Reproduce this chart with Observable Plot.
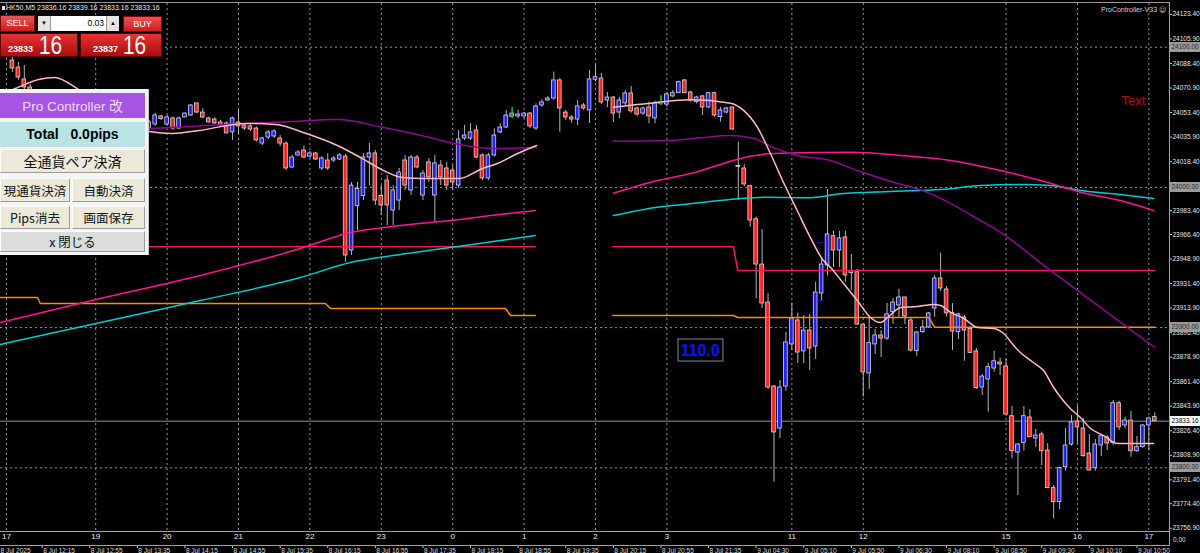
<!DOCTYPE html>
<html><head><meta charset="utf-8"><title>HK50,M5</title>
<script src="https://cdn.jsdelivr.net/npm/d3@7"></script>
<script src="https://cdn.jsdelivr.net/npm/@observablehq/plot@0.6"></script>
<style>
html,body{margin:0;padding:0;background:#000;}
#wrap{position:relative;width:1200px;height:553px;overflow:hidden;background:#000;}
#chart{position:absolute;left:0;top:0;}
.a{position:absolute;box-sizing:border-box;white-space:pre;font-family:"Liberation Sans",Arial,sans-serif;}
.jp{font-family:"Noto Sans CJK JP","Liberation Sans",sans-serif;}
.btn{background:#ece9d8;border:1px solid;border-color:#fff #9a9a9a #9a9a9a #fff;color:#111;display:flex;align-items:center;justify-content:center;}
</style></head>
<body><div id="wrap"><div id="chart"></div>
<!-- chart frame -->
<div class="a" style="left:0;top:2px;width:1170px;height:1px;background:#9a9a9a"></div>
<div class="a" style="left:1169px;top:2px;width:1px;height:544px;background:#a0a0a0"></div>
<div class="a" style="left:0;top:531px;width:1170px;height:1px;background:#a0a0a0"></div>
<div class="a" style="left:0;top:545px;width:1170px;height:1px;background:#a0a0a0"></div>
<div class="a" style="left:1173px;top:536px;font-size:6.5px;color:#ddd;line-height:8px">0.00</div>
<!-- header -->
<div class="a" style="left:2px;top:6px;width:3px;height:4px;background:#ddd"></div>
<div class="a" style="left:6px;top:3px;font-size:7px;color:#e6e6e6;line-height:10px">HK50,M5 23836.16 23839.16 23833.16 23833.16</div>
<div class="a" style="left:1101px;top:5px;font-size:7px;color:#d0d0d0;line-height:10px">ProController-V33 <span style="font-family:'DejaVu Sans'">☺</span></div>
<!-- trade panel -->
<div class="a" style="left:0;top:15px;width:35px;height:17px;background:linear-gradient(#ee5252,#c81e1e);border:1px solid #7a0a0a;color:#fff;font-size:9px;line-height:15px;text-align:center">SELL</div>
<div class="a" style="left:37px;top:15px;width:83px;height:17px;background:#fff;border:1px solid #000"></div>
<div class="a" style="left:38px;top:16px;width:13px;height:15px;background:#e4e4e4;border-right:1px solid #999;font-size:6px;line-height:15px;text-align:center;color:#000">▼</div>
<div class="a" style="left:52px;top:16px;width:52px;height:15px;font-size:8.5px;line-height:15px;text-align:right;color:#000">0.03</div>
<div class="a" style="left:106px;top:16px;width:13px;height:15px;background:#e4e4e4;border-left:1px solid #999;font-size:6px;line-height:15px;text-align:center;color:#000">▲</div>
<div class="a" style="left:123px;top:16px;width:39px;height:16px;background:linear-gradient(#ee5252,#c81e1e);border:1px solid #7a0a0a;color:#fff;font-size:9px;line-height:14px;text-align:center">BUY</div>
<div class="a" style="left:0;top:33px;width:78px;height:24px;background:linear-gradient(#e83232,#a80e0e);border:1px solid #5a0000"></div>
<div class="a" style="left:80px;top:33px;width:82px;height:24px;background:linear-gradient(#e83232,#a80e0e);border:1px solid #5a0000"></div>
<div class="a" style="left:8px;top:45px;font-size:9px;font-weight:bold;color:#fff;line-height:9px">23833</div>
<div class="a" style="left:39px;top:32px;font-size:26px;color:#fff;line-height:26px;transform:scaleX(0.8);transform-origin:left">16</div>
<div class="a" style="left:93px;top:45px;font-size:9px;font-weight:bold;color:#fff;line-height:9px">23837</div>
<div class="a" style="left:123px;top:32px;font-size:26px;color:#fff;line-height:26px;transform:scaleX(0.8);transform-origin:left">16</div>
<!-- Pro Controller panel -->
<div class="a" style="left:0;top:89px;width:149px;height:166px;background:#f4f4f4;border-right:1px solid #c8c8c8"></div>
<div class="a" style="left:0;top:93px;width:145px;height:25px;background:#a654e4;color:#ecdcff;font-size:13.5px;line-height:25px;text-align:center">Pro Controller <span class="jp">改</span></div>
<div class="a" style="left:0;top:122px;width:145px;height:25px;background:#b8e4e4;color:#000;font-size:14px;font-weight:bold;line-height:25px;text-align:center">Total   0.0pips</div>
<div class="a btn jp" style="left:0;top:149px;width:145px;height:24px;font-size:14px">全通貨ペア決済</div>
<div class="a btn jp" style="left:0;top:178px;width:70px;height:24px;font-size:12.5px">現通貨決済</div>
<div class="a btn jp" style="left:72px;top:178px;width:73px;height:24px;font-size:12.5px">自動決済</div>
<div class="a btn jp" style="left:0;top:205.5px;width:70px;height:23px;font-size:12.5px">Pips消去</div>
<div class="a btn jp" style="left:72px;top:205.5px;width:73px;height:23px;font-size:12.5px">画面保存</div>
<div class="a btn jp" style="left:0;top:231px;width:145px;height:21px;font-size:12.5px;background:#dcdcdc">x 閉じる</div>
</div>
<script>
// ---------- DATA ----------
const opens = [24090.5,24085.5,24077.0,24071.3,24067.7,24062.0,24064.9,24056.3,24051.3,24054.9,24046.3,24050.6,24043.5,24039.2,24044.2,24038.5,24042.7,24037.0,24042.0,24046.3,24040.6,24044.9,24041.3,24042.0,24044.9,24050.6,24044.9,24049.2,24042.0,24049.9,24051.3,24059.9,24053.4,24049.2,24048.4,24046.3,24045.6,24039.2,24046.3,24044.2,24043.5,24042.0,24031.3,24035.6,24036.3,24034.9,24031.3,24014.2,24022.8,24026.3,24022.0,24024.2,24013.5,24019.2,24019.2,24019.9,24022.0,23955.0,23986.6,23993.8,24021.3,24024.2,23993.8,24004.9,23983.5,23990.6,24019.2,23997.8,24021.3,23994.2,24017.8,23994.2,24015.6,24013.5,24012.0,24001.3,24034.9,24034.9,24040.6,24022.8,24006.4,24022.8,24039.2,24042.7,24050.6,24050.6,24050.6,24052.7,24042.0,24058.4,24062.0,24063.4,24076.3,24053.4,24049.9,24048.4,24058.4,24054.9,24076.8,24077.7,24062.0,24064.1,24053.4,24059.9,24067.0,24056.3,24052.7,24057.0,24049.2,24059.9,24059.1,24064.9,24067.2,24076.3,24067.7,24060.8,24064.9,24057.0,24067.2,24050.1,24053.4,24057.0,24015.3,24013.5,24000.9,23977.3,23945.0,23917.9,23858.0,23828.0,23858.0,23888.0,23905.1,23883.0,23897.9,23886.5,23924.3,23944.3,23965.2,23955.0,23964.3,23938.8,23939.5,23902.2,23867.3,23888.0,23894.4,23892.2,23911.0,23915.8,23921.5,23905.1,23883.2,23896.7,23900.1,23913.6,23935.0,23927.2,23910.3,23896.7,23907.2,23899.0,23883.0,23857.3,23863.0,23870.8,23875.1,23872.3,23836.8,23810.9,23817.8,23835.9,23820.9,23823.8,23812.3,23785.5,23775.5,23800.4,23816.6,23833.0,23828.0,23810.2,23799.7,23815.9,23821.6,23817.8,23846.1,23830.2,23833.7,23811.8,23814.7,23830.2,23836.16];
const highs = [24094.1,24089.1,24087.0,24073.4,24069.1,24067.0,24066.3,24058.4,24056.3,24056.3,24052.7,24052.0,24046.3,24045.6,24047.0,24044.2,24044.9,24043.5,24048.4,24047.7,24047.0,24046.3,24049.2,24047.7,24052.9,24051.3,24051.3,24050.1,24050.1,24053.2,24059.1,24060.1,24056.1,24050.1,24049.7,24047.7,24046.5,24050.1,24054.9,24045.6,24044.9,24043.0,24035.8,24040.6,24041.3,24037.0,24032.3,24022.8,24026.3,24029.4,24025.6,24025.1,24022.0,24024.0,24022.0,24024.2,24023.5,24003.5,24003.5,24024.2,24031.3,24026.3,24001.3,24008.5,24001.3,24013.5,24022.8,24022.8,24022.8,24012.0,24020.6,24022.8,24019.2,24017.8,24015.6,24040.6,24044.2,24045.4,24044.2,24024.0,24024.2,24041.8,24045.4,24054.9,24056.3,24054.9,24053.4,24053.4,24059.6,24062.5,24064.9,24082.2,24077.5,24054.9,24051.3,24062.0,24059.9,24083.4,24087.0,24081.2,24067.7,24064.9,24064.4,24069.1,24072.0,24057.2,24057.2,24060.8,24061.5,24064.9,24067.9,24069.1,24075.8,24076.8,24068.6,24065.1,24065.6,24067.9,24067.9,24057.2,24057.2,24057.2,24032.3,24016.3,24001.3,23978.8,23970.0,23924.3,23858.7,23862.3,23896.7,23917.4,23910.3,23908.6,23909.4,23932.4,23950.0,23998.5,23968.8,23968.6,23968.8,23952.2,23941.5,23902.2,23907.2,23898.7,23897.9,23917.2,23920.8,23927.2,23921.7,23906.5,23897.4,23905.1,23910.8,23937.2,23953.1,23929.3,23917.2,23910.3,23908.6,23900.3,23885.1,23866.6,23874.6,23883.2,23878.2,23877.3,23843.9,23817.3,23843.7,23841.6,23827.3,23825.4,23817.3,23787.4,23800.4,23828.0,23837.3,23844.4,23835.2,23823.8,23820.2,23823.8,23823.0,23848.0,23847.5,23836.1,23840.2,23822.3,23830.9,23836.1,23839.16];
const lows = [24082.0,24076.3,24069.1,24064.9,24059.1,24059.9,24053.4,24049.2,24047.7,24043.5,24044.2,24040.6,24036.3,24037.0,24034.9,24035.6,24034.2,24034.9,24039.9,24038.5,24038.5,24039.2,24039.9,24040.6,24043.5,24047.7,24043.5,24040.6,24041.1,24049.7,24050.6,24052.5,24049.0,24045.8,24044.9,24042.7,24038.3,24033.5,24038.3,24040.6,24039.9,24032.3,24029.9,24034.2,24034.9,24029.2,24012.1,24013.3,24022.0,24020.4,24020.6,24019.2,24012.1,24012.1,24017.8,24019.2,23946.4,23951.4,23969.2,23990.6,24001.3,23987.1,23980.0,23972.8,23972.8,23983.5,23997.8,23994.2,24013.3,23990.6,24003.5,23975.0,24001.3,23997.8,23997.8,23999.2,24033.4,24033.4,24020.4,24004.9,24004.9,24021.6,24038.3,24041.8,24049.2,24049.0,24049.2,24042.0,24040.6,24057.2,24061.3,24062.0,24039.4,24047.7,24045.8,24044.2,24054.9,24045.6,24075.1,24059.1,24057.0,24046.3,24049.0,24058.4,24053.0,24050.6,24051.3,24045.4,24045.4,24058.4,24057.2,24063.9,24066.8,24066.8,24060.8,24059.6,24051.3,24056.1,24050.1,24046.5,24052.5,24040.6,23990.6,24000.6,23971.6,23920.6,23913.6,23855.8,23789.7,23820.9,23854.6,23883.7,23874.4,23874.4,23869.4,23877.3,23918.8,23936.7,23942.9,23942.9,23932.4,23926.5,23901.5,23850.4,23855.9,23880.8,23878.7,23890.8,23902.2,23907.4,23902.2,23882.5,23879.6,23896.0,23899.4,23907.4,23925.8,23907.4,23883.7,23891.5,23876.0,23881.5,23855.9,23851.6,23839.7,23868.2,23865.8,23836.8,23806.6,23780.2,23811.8,23821.6,23814.7,23801.6,23785.2,23763.6,23770.3,23797.6,23815.4,23817.1,23807.6,23797.6,23797.6,23808.1,23812.3,23815.9,23826.6,23827.8,23807.6,23811.1,23814.0,23812.3,23833.16];
const closes = [24084.8,24078.4,24071.3,24067.7,24062.0,24064.9,24056.3,24051.3,24054.9,24046.3,24050.6,24043.5,24039.2,24044.2,24038.5,24042.7,24037.0,24042.0,24046.3,24040.6,24044.9,24041.3,24047.0,24046.3,24051.3,24048.7,24049.9,24042.0,24049.2,24052.7,24058.4,24053.4,24049.9,24046.3,24045.6,24044.2,24038.5,24049.2,24043.5,24042.0,24041.3,24033.5,24034.9,24039.2,24039.9,24031.3,24013.5,24021.3,24024.9,24021.3,24024.2,24019.9,24020.6,24013.5,24020.6,24022.8,23951.4,24001.3,23998.8,24021.3,24024.2,23990.6,23987.1,23987.1,23997.8,24010.6,24001.3,24021.3,24014.2,24009.9,24007.1,24017.1,24007.1,24001.3,24003.5,24034.2,24037.0,24039.2,24021.3,24006.4,24022.8,24037.0,24042.7,24051.3,24052.7,24052.0,24052.7,24043.5,24057.7,24060.6,24063.4,24076.3,24056.3,24049.9,24048.4,24057.7,24056.3,24077.0,24078.6,24060.6,24064.1,24052.7,24062.0,24067.0,24054.2,24052.0,24056.3,24050.6,24059.9,24060.6,24066.3,24067.2,24075.1,24067.2,24062.0,24064.1,24057.0,24067.2,24051.3,24054.9,24056.3,24041.3,24014.6,24002.1,23976.4,23945.0,23917.2,23857.3,23825.2,23857.3,23889.4,23906.5,23882.2,23897.9,23885.1,23925.0,23945.0,23966.4,23955.0,23963.6,23937.2,23940.2,23902.2,23868.0,23888.9,23894.4,23892.2,23909.4,23917.9,23921.5,23907.9,23883.7,23896.5,23900.1,23910.1,23935.0,23927.9,23910.1,23897.2,23909.4,23897.9,23881.9,23856.9,23865.1,23871.8,23876.0,23873.7,23838.0,23811.8,23816.6,23836.8,23821.8,23823.0,23811.8,23785.5,23775.5,23799.7,23815.9,23832.3,23828.8,23808.3,23798.1,23816.6,23822.5,23817.3,23846.1,23828.8,23833.7,23811.8,23814.7,23830.2,23835.2,23833.16];

// moving averages / levels: [bar index, price]
const pinkL = [[-2,24066.0],[0.5,24070.5],[4.4,24077.0],[7.1,24078.4],[10.9,24070.5],[16.5,24053.4],[23.0,24039.9],[26.9,24038.4],[31.4,24040.6],[39.2,24045.6],[44.2,24044.9],[49.4,24038.4],[54.6,24029.9],[58.5,24021.3],[62.4,24012.0],[65.6,24007.0],[68.8,24006.3],[71.9,24006.3],[75.1,24006.3],[79.0,24013.5],[81.5,24017.0],[84.9,24024.2],[88.1,24029.9]];
const pinkR = [[101.0,24057.2],[107.2,24060.1],[114.0,24062.5],[120.7,24060.1],[122.9,24054.9],[125.2,24043.0],[127.4,24024.2],[129.6,24003.5],[131.9,23983.5],[134.1,23964.3],[136.3,23947.8],[137.5,23942.9],[139.7,23931.4],[142.0,23919.3],[144.2,23907.2],[145.9,23903.6],[147.1,23907.2],[149.3,23914.3],[152.1,23915.0],[154.8,23916.5],[156.0,23915.8],[157.7,23910.8],[159.9,23906.5],[162.2,23900.1],[164.9,23899.4],[166.6,23895.8],[168.3,23887.2],[169.4,23882.2],[171.6,23875.1],[173.3,23869.4],[175.0,23857.3],[176.2,23850.1],[177.8,23842.3],[179.5,23835.9],[181.2,23828.0],[183.4,23823.0],[185.7,23817.3],[188.4,23817.3],[191.8,23817.3]];
const purpleL = [[-2,24040.0],[23.0,24042.0],[30.1,24043.5],[39.2,24045.6],[46.9,24047.0],[54.6,24048.4],[62.4,24042.7],[68.8,24037.0],[75.1,24030.6],[81.0,24027.7],[88.1,24028.4]];
const purpleR = [[101.0,24032.9],[110.1,24033.4],[115.6,24035.4],[120.7,24037.0],[124.6,24034.9],[127.9,24028.4],[131.9,24022.8],[137.5,24019.2],[142.0,24012.0],[147.1,24004.9],[154.3,23995.6],[162.7,23976.4],[165.6,23969.2],[174.5,23940.7],[179.5,23925.0],[187.4,23900.1],[192.0,23885.8]];
const magentaL = [[-2,23903.6],[14.8,23920.7],[31.6,23937.2],[48.4,23956.4],[56.8,23967.8],[65.2,23972.8],[73.6,23976.4],[82.0,23980.7],[87.9,23983.5]];
const magentaR = [[101.0,23995.8],[108.4,24004.9],[114.0,24009.9],[121.2,24019.2],[124.0,24022.2],[127.9,24024.2],[140.9,24025.1],[149.3,24022.8],[157.7,24019.2],[166.1,24012.0],[172.8,24004.9],[179.5,23996.6],[186.2,23990.6],[191.8,23983.5]];
const cyanL = [[-2,23888.0],[14.8,23903.6],[31.6,23919.3],[48.4,23935.7],[56.8,23946.4],[65.2,23952.1],[73.6,23957.1],[82.0,23962.1],[87.9,23965.7]];
const cyanR = [[101.0,23979.9],[108.4,23985.9],[114.0,23988.3],[121.9,23991.9],[126.9,23993.0],[133.6,23992.6],[139.2,23995.4],[147.6,23997.1],[156.0,23998.5],[162.7,24001.3],[169.4,24002.1],[174.5,24001.3],[179.5,23997.8],[186.2,23994.9],[191.8,23992.1]];
const crimsonL = [[-2,23957.6],[87.9,23957.6]];
const crimsonR = [[100.9,23957.6],[121.2,23957.6],[121.9,23940.7],[192,23940.7]];
const orangeL = [[-2,23921.5],[4.2,23921.5],[4.7,23917.2],[52.6,23917.2],[53.5,23913.6],[82.9,23913.6],[83.7,23908.6],[87.9,23908.6]];
const orangeR = [[100.9,23908.6],[121.2,23908.6],[121.9,23907.2],[154.0,23907.2],[155.0,23900.3],[192,23900.3]];

const levelPrices = [24100, 24000, 23900, 23800];
const bidPrice = 23833.16;
const priceLabels = ["24123.40","24105.90","24088.40","24070.90","24053.40","24035.90","24018.40","23983.40","23966.40","23948.90","23931.40","23913.90","23896.40","23878.90","23861.40","23843.90","23826.40","23808.90","23791.40","23774.40","23756.90"];
const hourIdx = [-1,14,26,38,50,62,74,86,98,110,131,143,167,179,191];
const hourText = ["17","19","20","21","22","23","0","1","2","3","11","12","15","16","17"];
const timeIdx = [5,13,21,29,37,45,53,61,69,77,85,93,101,109,117,125,133,141,149,157,165,173,181,189];
const timeText = ["8 Jul 12:15","8 Jul 12:55","8 Jul 13:35","8 Jul 14:15","8 Jul 14:55","8 Jul 15:35","8 Jul 16:15","8 Jul 16:55","8 Jul 17:35","8 Jul 18:15","8 Jul 18:55","8 Jul 19:35","8 Jul 20:15","8 Jul 20:55","8 Jul 21:35","9 Jul 04:30","9 Jul 05:10","9 Jul 05:50","9 Jul 06:30","9 Jul 08:10","9 Jul 08:50","9 Jul 09:30","9 Jul 10:10","9 Jul 10:50"];
const greenMarks = [{i:84, top:24057.0, bottom:24049.2, tick:24050.6},{i:109, top:24065.6, bottom:24058.4, tick:24059.9}];
const blueDashes = [{i1:135.5, i2:136.3, p:23960.7},{i1:135.5, i2:136.3, p:23919.3},{i1:111.8, i2:112.2, p:23892.2}];
const labelBox = {i1:111.95, i2:119.5, p1:23891.5, p2:23875.8, i:115.6, p:23883.4, text:"110.0"};
const textLabel = {i:188.4, p:24061.6, text:"Text"};

// ---------- BUILD ----------
const candles = opens.map((o,i)=>({i, open:o, high:highs[i], low:lows[i], close:closes[i]}));
const tickVals = priceLabels.map(Number);
const tickMap = new Map(tickVals.map((v,k)=>[v,priceLabels[k]]));
const hours = hourIdx.map((i,k)=>({i, t:hourText[k]}));
const times = timeIdx.map((i,k)=>({i, t:timeText[k]}));
const P = d=>d[0], Q = d=>d[1];
const ln = (data, stroke, curve="monotone-x") => Plot.line(data, {x:P, y:Q, stroke, strokeWidth:1.5, curve});

const chart = Plot.plot({
  width:1200, height:553, margin:0, marginRight:31,
  style:{background:"#000", color:"#dcdcdc", fontFamily:"Liberation Sans, Arial, sans-serif", overflow:"visible"},
  x:{type:"linear", domain:[0,192], range:[11.9,1154.3], axis:null},
  y:{type:"linear", domain:[23800,24100], range:[467.3,46.7], axis:null},
  marks:[
    Plot.ruleY(levelPrices, {stroke:"#8a96a3", strokeDasharray:"2,3", strokeWidth:1}),
    Plot.ruleX(hourIdx, {stroke:"#8a96a3", strokeDasharray:"2,3", strokeWidth:1, insetTop:3, insetBottom:22}),
    Plot.ruleY([bidPrice], {stroke:"#5b6168", strokeWidth:1.6}),
    Plot.ruleX(candles, {x:"i", y1:"low", y2:"high", stroke:"#b4b4b4", strokeWidth:1}),
    Plot.rect(candles, {x1:d=>d.i-0.31, x2:d=>d.i+0.31, y1:"open", y2:"close",
      fill:d=>d.close>=d.open?"#2222ff":"#ff2222", stroke:"#d6d6d6", strokeWidth:0.8}),
    ln(crimsonL,"#f41a4c","linear"), ln(crimsonR,"#f41a4c","linear"),
    ln(orangeL,"#ff8c00","linear"), ln(orangeR,"#ff8c00","linear"),
    ln(cyanL,"#00ccd0"), ln(cyanR,"#00ccd0"),
    ln(magentaL,"#ff1493"), ln(magentaR,"#ff1493"),
    ln(purpleL,"#8e0a8e"), ln(purpleR,"#8e0a8e"),
    ln(pinkL,"#ffb9c6"), ln(pinkR,"#ffb9c6"),
    Plot.ruleX(greenMarks, {x:"i", y1:"bottom", y2:"top", stroke:"#10c010", strokeWidth:1.2}),
    Plot.ruleY(greenMarks, {x1:d=>d.i-0.5, x2:"i", y:"tick", stroke:"#10c010", strokeWidth:1.2}),
    Plot.ruleY(blueDashes, {x1:"i1", x2:"i2", y:"p", stroke:"#1414c8", strokeWidth:1.2}),
    Plot.rect([labelBox], {x1:"i1", x2:"i2", y1:"p1", y2:"p2", fill:"#000", stroke:"#6a7078", strokeWidth:1.2}),
    Plot.text([labelBox], {x:"i", y:"p", text:"text", fill:"#0a14ff", fontSize:16, fontWeight:"bold"}),
    Plot.text([textLabel], {x:"i", y:"p", text:"text", fill:"#c40a0a", fontSize:13}),
    Plot.axisY(tickVals, {anchor:"right", tickSize:2, tickPadding:1, tickFormat:d=>tickMap.get(d), fontSize:6.5, fill:"#e6e6e6", stroke:"#c8c8c8", textAnchor:"start"}),
    Plot.text(hours, {x:"i", text:"t", frameAnchor:"bottom", dy:-15, fontSize:8, fill:"#e8e8e8"}),
    Plot.ruleX(times, {x:"i", insetTop:545, insetBottom:5, stroke:"#c0c0c0"}),
    Plot.text(times, {x:"i", text:"t", frameAnchor:"bottom", dy:-0.5, dx:1, lineAnchor:"bottom", textAnchor:"start", fontSize:6.5, fill:"#d8d8d8"}),
    Plot.text(["8 Jul 2025"], {x:()=>-2, text:d=>d, frameAnchor:"bottom", dy:-0.5, lineAnchor:"bottom", textAnchor:"start", fontSize:6.5, fill:"#d8d8d8"})
  ]
});
document.getElementById("chart").appendChild(chart);

// price boxes on the right scale
const ys = chart.scale("y");
const wrap = document.getElementById("wrap");
const boxes = [[24100,"24100.00","#9a9a9a","#2a2a2a"],[24000,"24000.00","#9a9a9a","#2a2a2a"],[23900,"23900.00","#9a9a9a","#2a2a2a"],[23800,"23800.00","#9a9a9a","#2a2a2a"],[bidPrice,"23833.16","#ffffff","#000000"]];
for (const [v,t,bg,fg] of boxes) {
  const d = document.createElement("div");
  d.className = "a";
  const y = ys.apply(v);
  d.style.cssText = `left:1170px;top:${y-5}px;width:30px;height:10px;background:${bg};color:${fg};font-size:6.5px;line-height:10px;padding-left:1.5px`;
  d.textContent = t;
  wrap.appendChild(d);
}
</script></body></html>
